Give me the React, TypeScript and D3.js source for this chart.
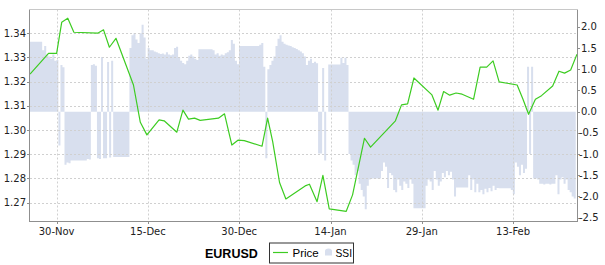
import React from "react";
import * as d3 from "d3";

const symbolName = "EURUSD";
const legendLabels = ["Price", "SSI"];

const priceTimes = [
  "2010-11-25 15:00", "2010-11-28 16:00", "2010-11-30 00:00", "2010-11-30 20:00", "2010-12-01 20:00",
  "2010-12-02 20:00", "2010-12-06 18:00", "2010-12-07 17:00", "2010-12-08 16:00", "2010-12-09 18:00",
  "2010-12-12 15:00", "2010-12-13 18:00", "2010-12-14 20:00", "2010-12-16 20:00", "2010-12-17 16:00",
  "2010-12-19 18:00", "2010-12-20 18:00", "2010-12-21 16:00", "2010-12-22 16:00", "2010-12-23 14:00",
  "2010-12-26 14:00", "2010-12-27 14:00", "2010-12-28 19:00", "2010-12-29 19:00", "2010-12-30 20:00",
  "2011-01-02 18:00", "2011-01-03 16:00", "2011-01-04 12:00", "2011-01-05 15:00", "2011-01-06 16:00",
  "2011-01-09 20:00", "2011-01-10 13:00", "2011-01-11 19:00", "2011-01-12 18:00", "2011-01-13 19:00",
  "2011-01-16 14:00", "2011-01-17 15:00", "2011-01-19 14:00", "2011-01-20 14:00", "2011-01-24 16:00",
  "2011-01-25 16:00", "2011-01-26 16:00", "2011-01-27 17:00", "2011-01-30 16:00", "2011-01-31 16:00",
  "2011-02-01 14:00", "2011-02-02 14:00", "2011-02-03 15:00", "2011-02-04 15:00", "2011-02-06 12:00",
  "2011-02-07 14:00", "2011-02-08 16:00", "2011-02-09 17:00", "2011-02-10 17:00", "2011-02-13 16:00",
  "2011-02-14 15:00", "2011-02-15 13:00", "2011-02-16 16:00", "2011-02-17 16:00", "2011-02-19 12:00",
  "2011-02-20 13:00", "2011-02-21 11:00", "2011-02-22 11:00", "2011-02-23 12:00",
];

const priceValues = [
  1.3231, 1.3317, 1.3317, 1.3445, 1.3462,
  1.3404, 1.3400, 1.3414, 1.3342, 1.3379,
  1.3186, 1.3032, 1.2980, 1.3042, 1.3038,
  1.2991, 1.3082, 1.3045, 1.3049, 1.3040,
  1.3049, 1.3067, 1.2938, 1.2958, 1.2956,
  1.2933, 1.3049, 1.2952, 1.2783, 1.2715,
  1.2769, 1.2776, 1.2704, 1.2813, 1.2674,
  1.2664, 1.2732, 1.2966, 1.2929, 1.3038,
  1.3104, 1.3108, 1.3215, 1.3145, 1.3082,
  1.3159, 1.3144, 1.3153, 1.3148, 1.3127,
  1.3260, 1.3260, 1.3286, 1.3199, 1.3186,
  1.3127, 1.3065, 1.3127, 1.3142, 1.3182,
  1.3243, 1.3235, 1.3248, 1.3313,
];

const ssiStart = "2010-11-25 15:00";
const ssiStepHours = 8;
const ssiValues = [
  1.65, 1.65, 1.65, 1.65, 1.65, 1.65, 1.45, 1.55, 1.35, 1.3,
  1.25, 1.35, 1.2, 1.22, -0.8, 1.1, 1.05, -1.25, -1.2, -1.22,
  -1.15, -1.15, -1.15, -1.15, -1.15, -1.15, -1.15, -1.15, -1.12, -1.13,
  1.1, 1.12, 1.08, -1.1, -1.12, 1.29, -1.1, -1.1, 1.17, -1.08,
  1.2, -1.07, -1.07, -1.07, -1.07, -1.07, -1.07, -1.07, -1.07, 1.5,
  1.8, 1.85, 1.7, 1.62, 1.85, 2.05, 1.75, 1.25, 1.5, 1.45,
  1.45, 1.42, 1.4, 1.38, 1.36, 1.37, 1.35, 1.4, 1.35, 1.33,
  1.35, 1.5, 1.53, 1.28, 1.2, 1.15, 1.12, 1.2, 1.32, 1.35,
  1.3, 1.25, 1.22, 1.47, 1.47, 1.47, 1.47, 1.47, 1.47, 1.47,
  1.45, 1.35, 1.38, 1.32, 1.35, 1.33, 1.38, 1.4, 1.45, 1.69,
  1.6, 1.2, 1.12, 1.55, 1.55, 1.55, 1.55, 1.55, 1.55, 1.55,
  1.55, 1.55, 1.55, 1.58, 1.62, 1.06, -1.1, 1.0, 1.1, 1.2,
  1.3, 1.55, 1.72, 1.8, 1.65, 1.6, 1.58, 1.56, 1.55, 1.52,
  1.5, 1.48, 1.45, 1.42, 1.38, 1.3, 1.1, 1.2, 1.25, 1.15,
  1.18, 1.14, -0.99, -0.99, 1.03, -1.15, 0, 1.11, 1.11, 1.11,
  1.11, 1.11, 1.11, 1.27, 1.15, 1.27, 1.1, -1.0, -1.15, -1.25,
  -1.5, -1.4, -1.7, -1.85, -2.0, -2.3, -1.75, -1.6, -1.58, -1.58,
  -1.58, -1.58, -1.58, -1.4, -1.2, -1.3, -1.8, -1.45, -1.5, -1.85,
  -1.9, -1.6, -1.75, -1.85, -1.65, -1.7, -1.8, -1.6, -1.7, -2.28,
  -2.28, -2.28, -2.28, -2.28, -2.28, -1.75, -1.6, -1.65, -1.85, -1.4,
  -1.6, -1.75, -1.65, -1.45, -1.55, -1.4, -1.5, -1.42, -1.6, -2.0,
  -1.79, -1.79, -1.79, -1.79, -1.79, -1.79, -1.5, -1.85, -1.6, -1.9,
  -1.7, -1.9, -1.85, -1.95, -1.82, -1.9, -1.8, -1.88, -1.75, -1.85,
  -1.8, -1.81, -1.81, -1.81, -1.81, -1.81, -1.81, -1.85, -1.95, -1.2,
  -1.3, -1.5, -1.25, -1.45, -1.35, 1.06, -1.0, 1.06, -1.58, -1.58,
  -1.6, -1.7, -1.7, -1.72, -1.7, -1.7, -1.72, -1.7, -1.7, -1.5,
  -1.95, -1.6, -1.55, -1.7, -1.6, -1.85, -1.9, -2.0, -2.05,
];

const xTickDates = ["2010-11-30", "2010-12-15", "2010-12-30", "2011-01-14", "2011-01-29", "2011-02-13"];
const leftTicks = [1.27, 1.28, 1.29, 1.3, 1.31, 1.32, 1.33, 1.34];
const rightTicks = [-2.5, -2.0, -1.5, -1.0, -0.5, 0.0, 0.5, 1.0, 1.5, 2.0];
const priceDomain = [1.2624, 1.3498];
const ssiDomain = [-2.58, 2.41];

const COLORS = {
  price: "#3dcc22",
  ssi: "#d8dfee",
  axis: "#8f8f8f",
  grid: "#d0d0d0",
  text: "#222",
};

export default function App() {
  const W = 605;
  const H = 265;
  const L = 30, R = 577, T = 9.5, B = 221;

  const parse = d3.timeParse("%Y-%m-%d %H:%M");
  const parseDay = d3.timeParse("%Y-%m-%d");
  const price = priceTimes.map((t, i) => ({ date: parse(t) as Date, v: priceValues[i] }));
  const start = parse(ssiStart) as Date;
  const ssi = ssiValues.map((v, i) => ({ date: d3.timeHour.offset(start, i * ssiStepHours), v }));
  ssi.push({
    date: d3.timeHour.offset(start, ssiValues.length * ssiStepHours),
    v: ssiValues[ssiValues.length - 1],
  });

  const x = d3.scaleTime().domain(d3.extent(price, (d) => d.date) as [Date, Date]).range([L, R]);
  const yL = d3.scaleLinear().domain(priceDomain).range([B, T]);
  const yR = d3.scaleLinear().domain(ssiDomain).range([B, T]);

  const area = d3
    .area<{ date: Date; v: number }>()
    .x((d) => x(d.date))
    .y0(yR(0))
    .y1((d) => yR(d.v))
    .curve(d3.curveStepAfter);
  const line = d3
    .line<{ date: Date; v: number }>()
    .x((d) => x(d.date))
    .y((d) => yL(d.v));

  const loc = d3.formatLocale({ decimal: ".", thousands: ",", grouping: [3], currency: ["$", ""], minus: "-" });
  const fL = loc.format(".2f");
  const fR = loc.format(".1f");
  const fX = d3.timeFormat("%d-%b");
  const xTicks = xTickDates.map((s) => parseDay(s) as Date);

  const tickFont = { fontFamily: "DejaVu Sans, sans-serif", fontSize: 10, fill: COLORS.text };
  const legendFont = { fontFamily: "Liberation Sans, Arial, sans-serif", fontSize: 11.5, fill: "#000" };

  return (
    <svg width={W} height={H} style={{ position: "absolute", left: 0, top: 0 }}>
      <defs>
        <clipPath id="plot">
          <rect x={L} y={T} width={R - L} height={B - T} />
        </clipPath>
      </defs>
      <rect x={0} y={0} width={W} height={H} fill="#fff" />
      <g clipPath="url(#plot)">
        <path d={area(ssi) || ""} fill={COLORS.ssi} stroke="none" />
      </g>
      {leftTicks.map((t) => (
        <line key={"gh" + t} x1={L} x2={R} y1={Math.round(yL(t)) + 0.5} y2={Math.round(yL(t)) + 0.5}
          stroke={COLORS.grid} strokeDasharray="2,2" />
      ))}
      {xTicks.map((t, i) => (
        <line key={"gv" + i} x1={Math.round(x(t)) + 0.5} x2={Math.round(x(t)) + 0.5} y1={T} y2={B}
          stroke={COLORS.grid} strokeDasharray="2,2" />
      ))}
      <g clipPath="url(#plot)">
        <path d={line(price) || ""} fill="none" stroke={COLORS.price} strokeWidth={1.2} strokeLinejoin="round" />
      </g>
      <line x1={L} x2={R} y1={T} y2={T} stroke="#c8c8c8" />
      <line x1={L - 0.5} x2={L - 0.5} y1={T} y2={B} stroke={COLORS.axis} />
      <line x1={R + 0.5} x2={R + 0.5} y1={T} y2={B} stroke={COLORS.axis} />
      <line x1={L - 1} x2={R + 1} y1={B + 0.5} y2={B + 0.5} stroke={COLORS.axis} />
      {leftTicks.map((t) => (
        <g key={"l" + t}>
          <line x1={L - 3} x2={L} y1={Math.round(yL(t)) + 0.5} y2={Math.round(yL(t)) + 0.5} stroke={COLORS.axis} />
          <text x={L - 4} y={yL(t) + 3.6} textAnchor="end" {...tickFont}>{fL(t)}</text>
        </g>
      ))}
      {rightTicks.map((t) => (
        <g key={"r" + t}>
          <line x1={R + 1} x2={R + 3} y1={Math.round(yR(t)) + 0.5} y2={Math.round(yR(t)) + 0.5} stroke={COLORS.axis} />
          <text x={t < 0 ? R + 2 : R + 4} y={yR(t) + 3.6} textAnchor="start" {...tickFont}>{fR(t)}</text>
        </g>
      ))}
      {xTicks.map((t, i) => (
        <g key={"x" + i}>
          <line x1={Math.round(x(t)) + 0.5} x2={Math.round(x(t)) + 0.5} y1={B + 1} y2={B + 3} stroke={COLORS.axis} />
          <text x={x(t)} y={235} textAnchor="middle" {...tickFont}>{fX(t)}</text>
        </g>
      ))}
      <text x={205} y={258} fontFamily="Liberation Sans, Arial, sans-serif" fontWeight="bold" fontSize={12.5} fill="#000">
        {symbolName}
      </text>
      <rect x={269.5} y={243} width={84} height={20} fill="#fff" stroke="#333" strokeWidth={1} />
      <line x1={273} x2={288} y1={252.5} y2={252.5} stroke={COLORS.price} strokeWidth={1.2} />
      <text x={292.5} y={257.3} {...legendFont}>{legendLabels[0]}</text>
      <path d="M325,255.5 L325,251 Q325,248.5 328.5,248.5 Q332,248.5 332,251 L332,255.5 Z" fill={COLORS.ssi} />
      <text x={335.5} y={257.3} {...legendFont} textLength={16.5} lengthAdjust="spacingAndGlyphs">{legendLabels[1]}</text>
    </svg>
  );
}
